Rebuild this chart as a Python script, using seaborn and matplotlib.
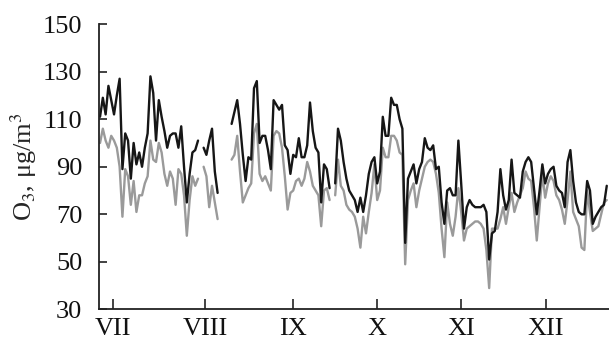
import numpy as np
import pandas as pd
import matplotlib
matplotlib.use("Agg")
import matplotlib.pyplot as plt
import seaborn as sns

nan = np.nan

# daily O3 values (µg/m3), two stations; NaN = missing days
o3_black = [
    111, 119, 112, 124, 118, 112, 120, 127, 89, 104,
    101, 85, 100, 91, 96, 90, 98, 104, 128, 121,
    101, 118, 111, 105, 98, 103, 104, 104, 98, 107,
    90, 75, 87, 96, 97, 101, nan, 98, 95, 101,
    106, 88, 79, nan, nan, nan, nan, 108, 113, 118,
    108, 95, 84, 94, 93, 123, 126, 100, 103, 103,
    97, 89, 118, 116, 114, 116, 99, 97, 87, 95,
    94, 102, 94, 94, 99, 117, 105, 98, 96, 75,
    91, 89, 81, nan, 83, 106, 101, 92, 85, 80,
    78, 76, 71, 77, 71, 78, 87, 92, 94, 83,
    88, 111, 103, 103, 119, 116, 116, 110, 106, 58,
    85, 88, 91, 83, 89, 92, 102, 98, 97, 99,
    89, 90, 75, 66, 80, 81, 78, 78, 101, 83,
    64, 73, 76, 74, 73, 73, 73, 74, 71, 51,
    62, 63, 71, 89, 78, 72, 76, 93, 79, 78,
    77, 88, 92, 94, 92, 81, 70, 80, 91, 83,
    87, 89, 90, 82, 80, 79, 73, 92, 97, 84,
    75, 71, 70, 70, 84, 80, 66, 69, 71, 73,
    74, 82,
]
o3_gray = [
    100, 106, 101, 98, 103, 101, 98, 90, 69, 89,
    86, 74, 84, 71, 78, 78, 83, 86, 101, 93,
    92, 100, 96, 87, 82, 88, 85, 74, 89, 87,
    78, 61, 76, 86, 82, 85, nan, 90, 86, 73,
    82, 75, 68, nan, nan, nan, nan, 93, 95, 103,
    88, 75, 78, 81, 83, 104, 108, 87, 84, 86,
    83, 80, 103, 105, 104, 98, 86, 72, 79, 80,
    84, 85, 82, 85, 92, 88, 82, 80, 78, 65,
    80, 81, 76, nan, 78, 93, 82, 80, 74, 72,
    71, 69, 64, 56, 69, 62, 71, 79, 91, 76,
    80, 98, 94, 94, 103, 103, 101, 96, 95, 49,
    76, 80, 83, 73, 80, 85, 90, 92, 93, 92,
    87, 79, 64, 52, 75, 66, 61, 69, 81, 71,
    59, 64, 65, 66, 67, 67, 66, 64, 55, 39,
    64, 64, 64, 68, 73, 66, 73, 79, 71, 75,
    78, 81, 88, 85, 84, 73, 59, 73, 87, 77,
    83, 86, 84, 78, 76, 72, 66, 76, 88, 71,
    68, 65, 56, 55, 80, 71, 63, 64, 65, 70,
    75, 76,
]
day = np.arange(len(o3_black))
month_labels = ["VII", "VIII", "IX", "X", "XI", "XII"]
month_pos = [4.6, 37.5, 68.9, 98.9, 128.9, 159.3]
y_ticks = [30, 50, 70, 90, 110, 130, 150]

df = pd.DataFrame({"day": day, "black": o3_black, "gray": o3_gray})
# segment ids so lines break at missing days
df["seg"] = df["black"].isna().cumsum()

sns.set_theme(style="ticks")
plt.rcParams["font.family"] = ["Liberation Serif", "DejaVu Serif"]
plt.rcParams["mathtext.fontset"] = "stix"

fig = plt.figure(figsize=(6.09, 3.43), dpi=100)
ax = fig.add_axes([0.1626, 0.0977, 0.8374, 0.8323])

d = df.dropna()
sns.lineplot(data=d, x="day", y="gray", units="seg", estimator=None,
             color="#9a9a9a", lw=1.7, ax=ax)
sns.lineplot(data=d, x="day", y="black", units="seg", estimator=None,
             color="#161616", lw=1.7, ax=ax)

ax.set_xlim(-0.36, 181.8)
ax.set_ylim(30, 150)
ax.set_yticks(y_ticks)
ax.set_xticks(month_pos)
ax.set_xticklabels(month_labels)
ax.set_xlabel("")
ax.set_ylabel(r"O$_3$, μg/m$^3$", fontsize=19, labelpad=3)

sns.despine(ax=ax)
for s in ("left", "bottom"):
    ax.spines[s].set_linewidth(1.3)
    ax.spines[s].set_color("#222222")
ax.tick_params(axis="both", direction="in", width=1.2, colors="#222222",
               labelsize=19, labelcolor="#111111")
ax.tick_params(axis="y", length=6, pad=12)
ax.tick_params(axis="x", length=7, pad=6)

fig.savefig("out.png", dpi=100)
